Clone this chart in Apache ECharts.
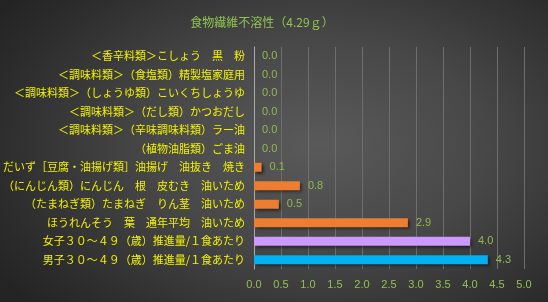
<!DOCTYPE html>
<html><head><meta charset="utf-8">
<script src="https://cdn.jsdelivr.net/npm/echarts@6/dist/echarts.min.js"></script>
<style>
html,body{margin:0;padding:0;}
#c{width:548px;height:302px;background:radial-gradient(ellipse 70% 80% at 58% 48%, #5a5a5a 0%, #474747 45%, #2c2c2c 85%, #242424 100%);}
</style></head><body>
<div id="c"></div>
<script>
const titleText = '食物繊維不溶性（4.29ｇ）';
const categories = [
  '＜香辛料類＞こしょう　黒　粉',
  '＜調味料類＞（食塩類）精製塩家庭用',
  '＜調味料類＞（しょうゆ類）こいくちしょうゆ',
  '＜調味料類＞（だし類）かつおだし',
  '＜調味料類＞（辛味調味料類）ラー油',
  '（植物油脂類）ごま油',
  'だいず［豆腐・油揚げ類］油揚げ　油抜き　焼き',
  '（にんじん類）にんじん　根　皮むき　油いため',
  '（たまねぎ類）たまねぎ　りん茎　油いため',
  'ほうれんそう　葉　通年平均　油いため',
  '女子３０～４９（歳）推進量/１食あたり',
  '男子３０～４９（歳）推進量/１食あたり'
];
const values = [0.0, 0.0, 0.0, 0.0, 0.0, 0.0, 0.14, 0.85, 0.46, 2.85, 4.0, 4.33];
const xTicks = [0, 0.5, 1.0, 1.5, 2.0, 2.5, 3.0, 3.5, 4.0, 4.5, 5.0];

const chart = echarts.init(document.getElementById('c'), null, {renderer:'canvas'});
const n = categories.length;
chart.setOption({
  backgroundColor: 'transparent',
  animation: false,
  title: {text: titleText, left: 257, textAlign: 'center', top: 11,
    textStyle: {color:'#8fc44f', fontSize: 12, fontWeight: 'normal', fontFamily: '"Noto Sans CJK JP", sans-serif'}},
  grid: {left: 253, right: 24, top: 47, bottom: 33, containLabel: false},
  xAxis: {type:'value', min: xTicks[0], max: xTicks[xTicks.length-1], interval: 0.5,
    axisLine:{show:false}, axisTick:{show:false},
    splitLine:{show:true, lineStyle:{color:'#6e6e6e', width:1}},
    axisLabel:{color:'#92c050', fontSize: 11, margin: 10, fontFamily:'"Liberation Sans", sans-serif',
      formatter: v => v.toFixed(1)}},
  yAxis: {type:'category', data: categories, inverse: true,
    axisLine:{show:true, lineStyle:{color:'#aaaaaa', width:1}}, axisTick:{show:false},
    axisLabel:{color:'#f2f200', fontSize: 11, margin: 9, fontFamily:'"Noto Sans CJK JP", sans-serif'}},
  series: [{
    type:'bar', data: values, barWidth: 9,
    itemStyle: {
      color: p => p.dataIndex === n-1 ? '#00b0f0' : (p.dataIndex === n-2 ? '#cc99ff' : '#ed7d31'),
      shadowColor:'rgba(0,0,0,0.55)', shadowBlur: 3, shadowOffsetX: 2, shadowOffsetY: 2
    },
    label: {show:true, position:'right', distance: 8, color:'#92b850', fontSize: 11,
      fontFamily:'"Liberation Sans", sans-serif', formatter: p => p.value.toFixed(1)}
  }]
});
</script></body></html>
